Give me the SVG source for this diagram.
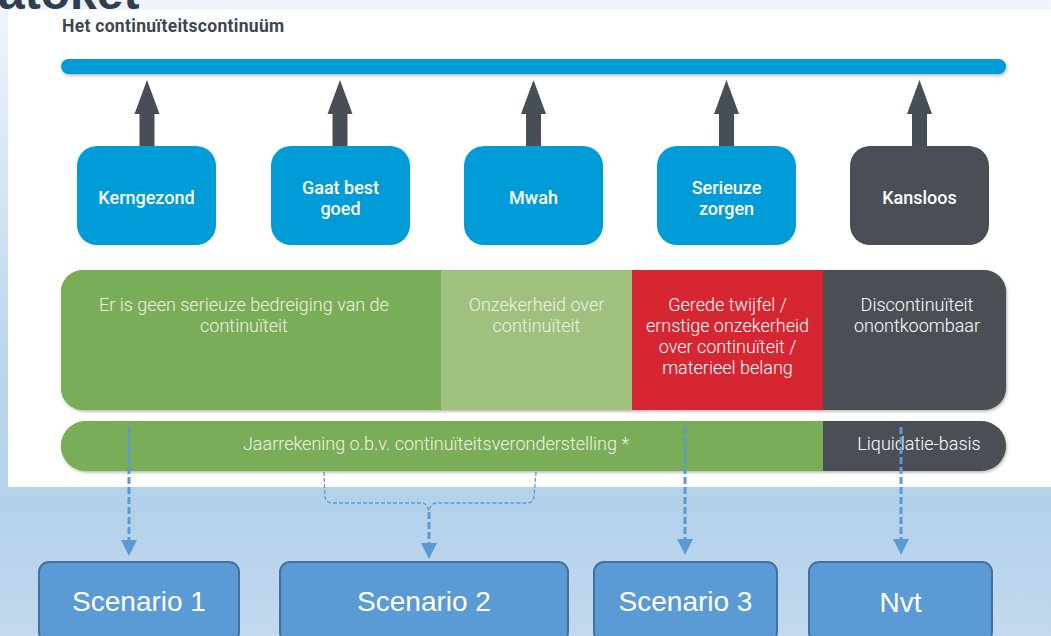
<svg xmlns="http://www.w3.org/2000/svg" width="1051" height="636" viewBox="0 0 1051 636">
  <defs>
    <linearGradient id="bg" x1="0" y1="0" x2="0" y2="1">
      <stop offset="0" stop-color="#f0f5fb"/>
      <stop offset="0.55" stop-color="#bcd6ec"/>
      <stop offset="0.8" stop-color="#b4d1ea"/>
      <stop offset="1" stop-color="#c2d9ee"/>
    </linearGradient>
    <filter id="sh" x="-5%" y="-30%" width="110%" height="160%">
      <feDropShadow dx="1" dy="1.5" stdDeviation="1.5" flood-color="#000" flood-opacity="0.3"/>
    </filter>
    <clipPath id="bandClip">
      <rect x="61" y="270" width="945" height="140" rx="22" ry="22"/>
    </clipPath>
    <clipPath id="band2Clip">
      <rect x="61" y="421" width="945" height="50" rx="25" ry="25"/>
    </clipPath>
    <marker id="ah" viewBox="0 0 16 16" refX="0" refY="8" markerWidth="16" markerHeight="16" markerUnits="userSpaceOnUse" orient="auto">
      <path d="M0,0 L16,8 L0,16 z" fill="#5b9bd5"/>
    </marker>
    <style>
      .title { font-family: Roboto, "Liberation Sans", sans-serif; font-size: 17.5px; font-weight: 700; fill: #3d4650; letter-spacing: 0.3px; }
      .box { fill: #009cd7; }
      .dark { fill: #4a4f56; }
      .lbl { font-family: Roboto, "Liberation Sans", sans-serif; font-size: 18px; font-weight: 500; fill: #ffffff; text-anchor: middle; }
      .bt { font-family: Roboto, "Liberation Sans", sans-serif; font-size: 18px; font-weight: 300; text-anchor: middle; }
      .on-g { fill: #eef3e2; }
      .on-w { fill: #ffffff; }
      .sc { fill: #5b9bd5; stroke: #41719c; stroke-width: 2; }
      .sct { font-family: "Liberation Sans", Arial, sans-serif; font-size: 28px; fill: #ffffff; text-anchor: middle; }
      .dash { fill: none; stroke: #5b9bd5; stroke-width: 3; stroke-dasharray: 7 3; }
      .thin { fill: none; stroke: #5b9bd5; stroke-width: 1.3; stroke-dasharray: 4 2; }
    </style>
  </defs>

  <!-- background -->
  <rect x="0" y="0" width="1051" height="636" fill="url(#bg)"/>
  <text x="-2" y="9" font-family="'Liberation Sans', Arial, sans-serif" font-size="48" font-weight="700" fill="#2f3d52">atoket</text>
  <rect x="8" y="10" width="1043" height="477" fill="#ffffff"/>

  <text class="title" x="62" y="32">Het continuïteitscontinuüm</text>

  <!-- continuum bar -->
  <g id="continuum">
    <rect x="61" y="59" width="945" height="15" rx="7.5" fill="#009cd7" filter="url(#sh)"/>
  </g>

  <!-- up arrows -->
  <g id="up-arrows" fill="#474e55">
    <polygon points="139.5,146 139.5,114 134.5,114 147,80 159.5,114 154.5,114 154.5,146"/>
    <polygon points="332.5,146 332.5,114 327.5,114 340,80 352.5,114 347.5,114 347.5,146"/>
    <polygon points="526,146 526,114 521,114 533.5,80 546,114 541,114 541,146"/>
    <polygon points="719,146 719,114 714,114 726.5,80 739,114 734,114 734,146"/>
    <polygon points="912,146 912,114 907,114 919.5,80 932,114 927,114 927,146"/>
  </g>

  <g id="kerngezond">
    <rect class="box" x="77" y="146" width="139" height="99" rx="20"/>
    <text class="lbl" x="146.5" y="204">Kerngezond</text>
  </g>
  <g id="gaat-best-goed">
    <rect class="box" x="271" y="146" width="139" height="99" rx="20"/>
    <text class="lbl" x="340.5" y="194">Gaat best</text>
    <text class="lbl" x="340.5" y="215">goed</text>
  </g>
  <g id="mwah">
    <rect class="box" x="464" y="146" width="139" height="99" rx="20"/>
    <text class="lbl" x="533.5" y="204">Mwah</text>
  </g>
  <g id="serieuze-zorgen">
    <rect class="box" x="657" y="146" width="139" height="99" rx="20"/>
    <text class="lbl" x="726.5" y="194">Serieuze</text>
    <text class="lbl" x="726.5" y="215">zorgen</text>
  </g>
  <g id="kansloos">
    <rect class="dark" x="850" y="146" width="139" height="99" rx="20"/>
    <text class="lbl" x="919.5" y="204">Kansloos</text>
  </g>

  <!-- main band -->
  <g id="band">
    <rect x="61" y="270" width="945" height="140" rx="22" fill="#7aad57" filter="url(#sh)"/>
    <g clip-path="url(#bandClip)">
      <rect x="61" y="270" width="380" height="140" fill="#7aad57"/>
      <rect x="441" y="270" width="191" height="140" fill="#a0c07e"/>
      <rect x="632" y="270" width="191" height="140" fill="#d62631"/>
      <rect x="823" y="270" width="183" height="140" fill="#4a4f56"/>
    </g>
    <g id="geen-bedreiging">
      <text class="bt on-g" x="244" y="311">Er is geen serieuze bedreiging van de</text>
      <text class="bt on-g" x="244" y="332">continuïteit</text>
    </g>
    <g id="onzekerheid">
      <text class="bt on-g" x="536.5" y="311">Onzekerheid over</text>
      <text class="bt on-g" x="536.5" y="332">continuïteit</text>
    </g>
    <g id="gerede-twijfel">
      <text class="bt on-w" x="727.5" y="311">Gerede twijfel /</text>
      <text class="bt on-w" x="727.5" y="332">ernstige onzekerheid</text>
      <text class="bt on-w" x="727.5" y="353">over continuïteit /</text>
      <text class="bt on-w" x="727.5" y="374">materieel belang</text>
    </g>
    <g id="discontinuiteit">
      <text class="bt on-w" x="917" y="311">Discontinuïteit</text>
      <text class="bt on-w" x="917" y="332">onontkoombaar</text>
    </g>
  </g>

  <!-- basis band -->
  <g id="basis">
    <rect x="61" y="421" width="945" height="50" rx="25" fill="#7aad57" filter="url(#sh)"/>
    <g clip-path="url(#band2Clip)">
      <rect x="61" y="421" width="762" height="50" fill="#7aad57"/>
      <rect x="823" y="421" width="183" height="50" fill="#4a4f56"/>
    </g>
    <text class="bt on-g" x="436" y="450">Jaarrekening o.b.v. continuïteitsveronderstelling *</text>
    <text class="bt on-w" x="919" y="450">Liquidatie-basis</text>
  </g>

  <!-- connectors -->
  <g id="connectors">
    <line class="dash" x1="129" y1="427" x2="129" y2="540" marker-end="url(#ah)"/>
    <path class="thin" d="M324,472 L325,497 Q326,503 332,503 L422,503 Q427,503 429,511 Q431,503 436,503 L527,503 Q533,503 534,497 L536,472"/>
    <line class="dash" x1="429" y1="512" x2="429" y2="543" stroke-width="2.5" marker-end="url(#ah)"/>
    <line class="dash" x1="685" y1="427" x2="685" y2="539" marker-end="url(#ah)"/>
    <line class="dash" x1="901" y1="427" x2="901" y2="539" marker-end="url(#ah)"/>
  </g>

  <!-- scenarios -->
  <g id="scenario-1">
    <rect class="sc" x="39" y="562" width="200" height="80" rx="10"/>
    <text class="sct" x="139" y="611">Scenario 1</text>
  </g>
  <g id="scenario-2">
    <rect class="sc" x="280" y="562" width="288" height="80" rx="10"/>
    <text class="sct" x="424" y="611">Scenario 2</text>
  </g>
  <g id="scenario-3">
    <rect class="sc" x="594" y="562" width="183" height="80" rx="10"/>
    <text class="sct" x="685.5" y="611">Scenario 3</text>
  </g>
  <g id="nvt">
    <rect class="sc" x="809" y="562" width="183" height="80" rx="10"/>
    <text class="sct" x="900.5" y="612" font-size="31">Nvt</text>
  </g>
</svg>
